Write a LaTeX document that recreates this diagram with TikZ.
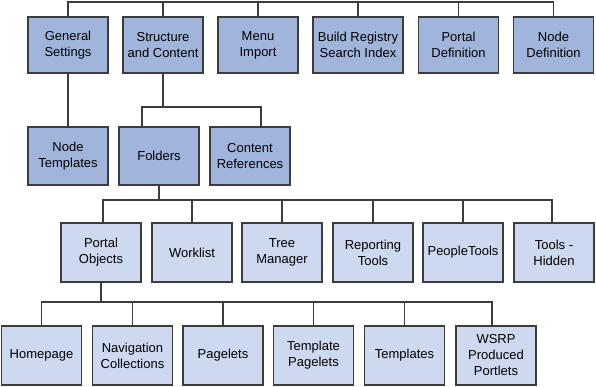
\documentclass[tikz,border=0pt]{standalone}
\usepackage{fontspec}
\setmainfont{Liberation Sans}
\definecolor{darkfill}{HTML}{A1B5DC}
\definecolor{lightfill}{HTML}{CDD9EE}
\definecolor{edge}{HTML}{3C3C3C}
\tikzset{
  box/.style={draw=edge, line width=1.2pt, minimum width=80pt, align=center, inner sep=1pt,
    font=\fontsize{13}{16}\selectfont},
  dbox/.style={box, fill=darkfill},
  lbox/.style={box, fill=lightfill},
  conn/.style={draw=edge, line width=1.2pt}
}
\begin{document}
\begin{tikzpicture}[x=1pt,y=-1pt]
\useasboundingbox (0,0) rectangle (596,387);
% Row 1
\node[dbox, minimum height=56pt] (gs) at (68,45) {General\\Settings};
\node[dbox, minimum height=56pt] (sc) at (163,45) {Structure\\and Content};
\node[dbox, minimum height=56pt] (mi) at (258,45) {Menu\\Import};
\node[dbox, minimum height=56pt, minimum width=90pt] (br) at (358,45) {Build Registry\\Search Index};
\node[dbox, minimum height=56pt] (pd) at (458.5,45) {Portal\\Definition};
\node[dbox, minimum height=56pt] (nd) at (553.5,45) {Node\\Definition};
% Row 2
\node[dbox, minimum height=58pt] (nt) at (68,156) {Node\\Templates};
\node[dbox, minimum height=58pt] (fo) at (159,156) {Folders};
\node[dbox, minimum height=58pt] (cr) at (250,156) {Content\\References};
% Row 3
\node[lbox, minimum height=59pt] (po) at (101,252.5) {Portal\\Objects};
\node[lbox, minimum height=59pt] (wl) at (192,252.5) {Worklist};
\node[lbox, minimum height=59pt] (tm) at (282,252.5) {Tree\\Manager};
\node[lbox, minimum height=59pt] (rt) at (373,252.5) {Reporting\\Tools};
\node[lbox, minimum height=59pt] (pt) at (463,252.5) {PeopleTools};
\node[lbox, minimum height=59pt] (th) at (554,252.5) {Tools -\\Hidden};
% Row 4
\node[lbox, minimum height=59pt] (hp) at (41.5,355.5) {Homepage};
\node[lbox, minimum height=59pt] (nc) at (132.5,355.5) {Navigation\\Collections};
\node[lbox, minimum height=59pt] (pg) at (223,355.5) {Pagelets};
\node[lbox, minimum height=59pt] (tp) at (313.5,355.5) {Template\\Pagelets};
\node[lbox, minimum height=59pt] (tl) at (404.5,355.5) {Templates};
\node[lbox, minimum height=59pt] (ws) at (496,355.5) {WSRP\\Produced\\Portlets};
% bus coordinates
\coordinate (top) at (0,2);
\coordinate (b2) at (0,107);
\coordinate (b3) at (0,200);
\coordinate (b4) at (0,302);
% Row 1 bus
\draw[conn] (gs.north) |- (nd.north |- top) -- (nd.north);
\foreach \n in {sc,mi,br,pd} \draw[conn] (\n.north) -- (\n.north |- top);
% General Settings -> Node Templates
\draw[conn] (gs.south) -- (nt.north);
% Structure and Content -> Folders, Content References
\draw[conn] (sc.south) -- (sc.south |- b2);
\draw[conn] ([xshift=-17pt]fo.north) |- ([xshift=11pt]cr.north |- b2) -- ([xshift=11pt]cr.north);
% Folders -> row 3
\draw[conn] (fo.south) -- (fo.south |- b3);
\draw[conn] ([xshift=2pt]po.north) |- ([xshift=-2pt]th.north |- b3) -- ([xshift=-2pt]th.north);
\foreach \n in {wl,tm,rt,pt} \draw[conn] (\n.north) -- (\n.north |- b3);
% Portal Objects -> row 4
\draw[conn] (po.south) -- (po.south |- b4);
\draw[conn] (hp.north) |- ([xshift=-4pt]ws.north |- b4) -- ([xshift=-4pt]ws.north);
\foreach \n in {nc,pg,tp,tl} \draw[conn] (\n.north) -- (\n.north |- b4);
\end{tikzpicture}
\end{document}
